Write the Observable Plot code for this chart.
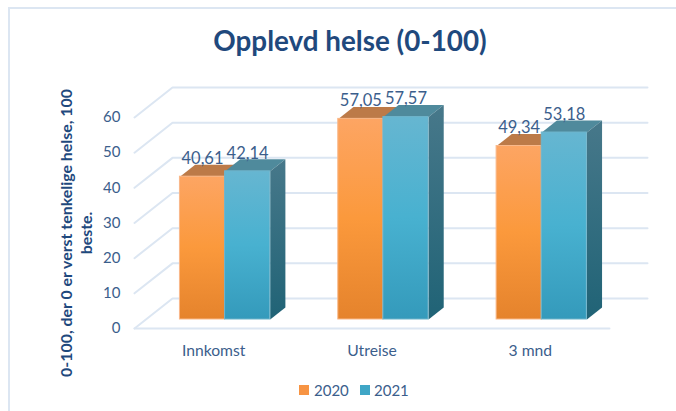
<!DOCTYPE html>
<html lang="no">
<head>
<meta charset="utf-8">
<script src="https://cdn.jsdelivr.net/npm/d3@7"></script>
<script src="https://cdn.jsdelivr.net/npm/@observablehq/plot@0.6"></script>
<style>
  html, body { margin: 0; padding: 0; background: #fff; overflow: hidden; }
  body { width: 676px; height: 411px; position: relative; font-family: Lato, sans-serif; }
  #frame { position: absolute; left: 8px; top: 7px; width: 668px; height: 404px;
           border-top: 2px solid #dce6f2; border-left: 2px solid #dce6f2; box-sizing: border-box; }
  #title { position: relative; height: 60px; line-height: 82px; text-align: center; left: 12px; width: 676px;
           font-size: 27.8px; font-weight: 700; color: #1f497d; }
  #chart { position: relative; height: 300px; }
  #chart svg { display: block; }
  #legend { position: relative; height: 51px; font-size: 15px; color: #3b5e8c; }
  #legend span { position: absolute; top: 20px; line-height: 20px; }
  #legend i { position: absolute; top: 25px; width: 10px; height: 10px; }
</style>
</head>
<body>
<div id="frame"></div>
<div id="title">Opplevd helse (0-100)</div>
<div id="chart"></div>
<div id="legend">
  <i style="left:299px;background:#f79443"></i><span style="left:314px">2020</span>
  <i style="left:360px;background:#3fa6c6"></i><span style="left:374px">2021</span>
</div>
<script>
const categories = ["Innkomst", "Utreise", "3 mnd"];
const values2020 = [40.61, 57.05, 49.34];
const values2021 = [42.14, 57.57, 53.18];
const yTicks = [0, 10, 20, 30, 40, 50, 60];

// Oblique 3D projection expressed in scale units: depth 0 = front, depth 1 = back wall
const depthX = 0.24;
const depthY = 8.52;
const barFront = 0.3, barBack = 0.7;
const groupStart = 0.215, barWidth = 0.285;
const project = (x, v, d) => ({ x: x + d * depthX, y: v + d * depthY });

const grid = yTicks.flatMap((t) => {
  const pts = [project(0, t, 0), project(0, t, 1), project(3, t, 1)];
  return pts.map((p) => ({ ...p, z: t }));
});
const floorFront = [project(0, 0, 0), project(3, 0, 0)];

const bars = (vals, series, offset) => vals.map((v, i) => {
  const x0 = i + groupStart + offset * barWidth;
  return { i, v, series, x0, x1: x0 + barWidth };
});
const bars2020 = bars(values2020, "2020", 0);
const bars2021 = bars(values2021, "2021", 1);

const frontRect = (b) => ({
  x1: project(b.x0, 0, barFront).x, x2: project(b.x1, 0, barFront).x,
  y1: project(0, 0, barFront).y, y2: project(0, b.v, barFront).y
});
const topFace = (b) => [
  project(b.x0, b.v, barFront), project(b.x1, b.v, barFront),
  project(b.x1, b.v, barBack), project(b.x0, b.v, barBack), project(b.x0, b.v, barFront)
].map((p) => ({ ...p, z: b.i }));
const sideFace = (b) => [
  project(b.x1, 0, barFront), project(b.x1, b.v, barFront),
  project(b.x1, b.v, barBack), project(b.x1, 0, barBack), project(b.x1, 0, barFront)
].map((p) => ({ ...p, z: b.i }));

const stops = (id, x2, y2, list) =>
  `<linearGradient id="${id}" x1="0" y1="0" x2="${x2}" y2="${y2}">` +
  list.map(([o, c]) => `<stop offset="${o}" stop-color="${c}"/>`).join("") + `</linearGradient>`;

const defs = () => {
  const g = document.createElementNS("http://www.w3.org/2000/svg", "defs");
  g.innerHTML =
    stops("front2020", 0, 1, [[0, "#fda563"], [0.5, "#fb993c"], [1, "#e5832c"]]) +
    stops("front2021", 0, 1, [[0, "#66b6d1"], [0.5, "#48b1d0"], [1, "#349abb"]]) +
    stops("side2021", 0, 1, [[0, "#47788a"], [1, "#206376"]]);
  return g;
};

const polygon = (data, fill) => Plot.line(data, { x: "x", y: "y", z: "z", fill, stroke: "none", curve: "linear" });
const fronts = (list, id, edge) => Plot.rect(list.map(frontRect), {
  x1: "x1", x2: "x2", y1: "y1", y2: "y2", fill: `url(#${id})`, stroke: edge, strokeWidth: 1, insetLeft: 0, insetRight: 0
});
const labels = (list) => Plot.text(list, {
  x: (b) => project((b.x0 + b.x1) / 2, b.v, barFront).x,
  y: (b) => project(0, b.v, barFront).y,
  text: (b) => b.v.toFixed(2).replace(".", ","),
  dy: -18, fontSize: 16.5, fill: "#3b5e8c"
});

const plot = Plot.plot({
  width: 676, height: 300,
  marginLeft: 134, marginRight: 67, marginTop: 57, marginBottom: 32,
  style: { fontFamily: "Lato, sans-serif", background: "transparent", overflow: "visible" },
  x: { domain: [0, 3] },
  y: { domain: [0, 60] },
  marks: [
    defs,
    Plot.line(grid, { x: "x", y: "y", z: "z", stroke: "#dce6f2", strokeWidth: 2, curve: "linear" }),
    Plot.line(floorFront, { x: "x", y: "y", stroke: "#dce6f2", strokeWidth: 2 }),
    Plot.axisY({ ticks: yTicks, tickSize: 0, tickPadding: 14, fontSize: 15, color: "#3b5e8c", label: null }),
    Plot.axisX({
      ticks: categories.map((c, i) => i + 0.5),
      tickFormat: (d) => categories[Math.floor(d)],
      tickSize: 0, tickPadding: 16, fontSize: 15.7, color: "#3b5e8c", label: null
    }),
    ...bars2020.map((b) => polygon(topFace(b), "#bc7a48")),
    fronts(bars2020, "front2020", "#f9b88a"),
    ...bars2021.map((b) => polygon(topFace(b), "#4f8a9c")),
    ...bars2021.map((b) => polygon(sideFace(b), "url(#side2021)")),
    fronts(bars2021, "front2021", "#6fb4cb"),
    labels(bars2020),
    labels(bars2021),
    Plot.text(["0-100, der 0 er verst tenkelige helse, 100\nbeste."], {
      frameAnchor: "left", textAnchor: "middle", rotate: -90, dx: -59, dy: 10,
      fontSize: 15.9, fontWeight: 700, lineHeight: 1.25, fill: "#1f497d"
    })
  ]
});
document.getElementById("chart").append(plot);
</script>
</body>
</html>
